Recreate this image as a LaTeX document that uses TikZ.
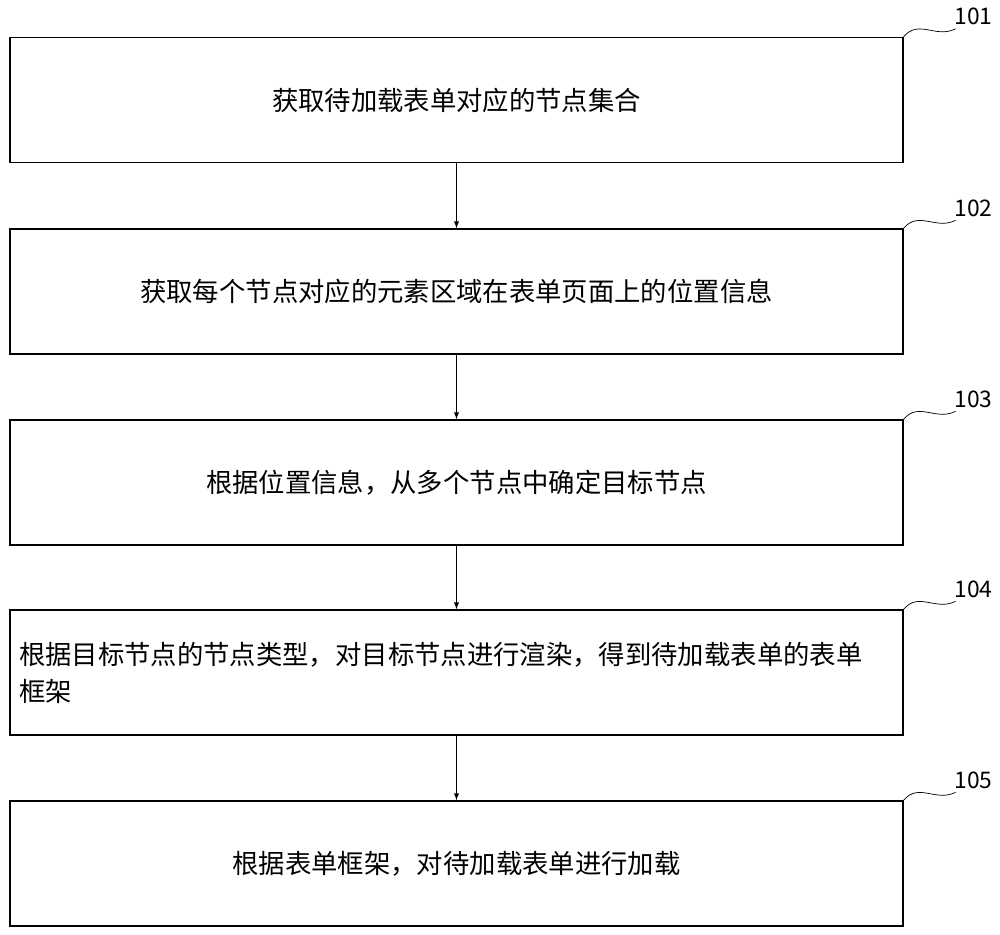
\documentclass[tikz,border=0pt]{standalone}
\usepackage{fontspec}
\setmainfont{Noto Sans CJK SC}
\usetikzlibrary{positioning,calc}
\tikzset{
  stepbox/.style={draw, thick, minimum width=17.86cm, minimum height=2.5cm, font=\fontsize{15}{21}\selectfont},
  tag/.style={font=\fontsize{13}{15}\selectfont}
}
\begin{document}
\begin{tikzpicture}[x=0.02cm,y=-0.02cm]
	\useasboundingbox (0,0) rectangle (1000,935);
	% steps
	\node[stepbox] (s1) at (456.5,100) {获取待加载表单对应的节点集合};
	\node[stepbox] (s2) at (456.5,291.5) {获取每个节点对应的元素区域在表单页面上的位置信息};
	\node[stepbox] (s3) at (456.5,482.5) {根据位置信息，从多个节点中确定目标节点};
	\node[stepbox, align=left, text width=17.5cm] (s4) at (456.5,672.5) {根据目标节点的节点类型，对目标节点进行渲染，得到待加载表单的表单\\框架};
	\node[stepbox] (s5) at (456.5,863.5) {根据表单框架，对待加载表单进行加载};
	\foreach \a/\b in {s1/s2,s2/s3,s3/s4,s4/s5}
		\draw[-latex] (\a) -- (\b);
	% labels
	\foreach \n/\t in {s1/101,s2/102,s3/103,s4/104,s5/105}{
		\draw (\n.north east) .. controls ++(15,-18) and ++(-20,10) .. ++(52,-8);
		\node[tag] at ($(\n.north east)+(70,-20)$) {\t};
	}
\end{tikzpicture}
\end{document}
